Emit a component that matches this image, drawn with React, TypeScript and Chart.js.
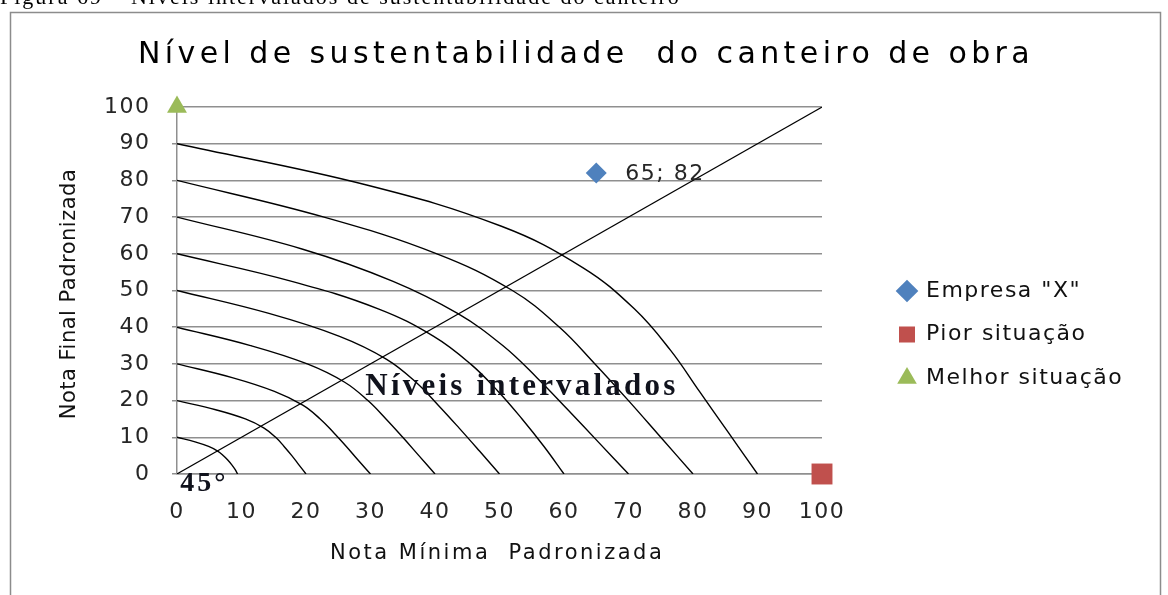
import React, { useEffect, useRef } from "react";
import { Chart, registerables } from "chart.js";

Chart.register(...registerables);

// ---------- texts ----------
const CAPTION = "Figura 69 – Níveis intervalados de sustentabilidade do canteiro";
const TITLE = "Nível de sustentabilidade  do canteiro de obra";
const X_AXIS_TITLE = "Nota Mínima  Padronizada";
const Y_AXIS_TITLE = "Nota Final Padronizada";
const LEVELS_LABEL = "Níveis intervalados";
const ANGLE_LABEL = "45°";

// ---------- axes ----------
const X_TICKS = [0, 10, 20, 30, 40, 50, 60, 70, 80, 90, 100];
const Y_TICKS = [0, 10, 20, 30, 40, 50, 60, 70, 80, 90, 100];

// ---------- point series ----------
const SERIES_NAMES = ['Empresa "X"', "Pior situação", "Melhor situação"];
const EMPRESA_X = [65];
const EMPRESA_Y = [82];
const PIOR_X = [100];
const PIOR_Y = [0];
const MELHOR_X = [0];
const MELHOR_Y = [100];

// ---------- 45° line ----------
const DIAGONAL_X = [0, 100];
const DIAGONAL_Y = [0, 100];

// ---------- level curves ----------
const CURVE_10_X = [0, 2.8, 4.9, 6.3, 7.2, 7.9, 8.5, 9.0, 9.4];
const CURVE_10_Y = [10, 8.75, 7.5, 6.25, 5, 3.75, 2.5, 1.25, 0];
const CURVE_20_X = [0, 6.0, 10.6, 13.5, 15.3, 16.6, 17.8, 18.9, 20];
const CURVE_20_Y = [20, 17.5, 15, 12.5, 10, 7.5, 5, 2.5, 0];
const CURVE_30_X = [0, 8.55, 15.1, 19.5, 22.2, 24.3, 26.25, 28.1, 30];
const CURVE_30_Y = [30, 26.25, 22.5, 18.75, 15, 11.25, 7.5, 3.75, 0];
const CURVE_40_X = [0, 11.4, 20.2, 26, 29.6, 32.4, 35, 37.5, 40];
const CURVE_40_Y = [40, 35, 30, 25, 20, 15, 10, 5, 0];
const CURVE_50_X = [0, 14.25, 25.2, 32.5, 37.05, 40.5, 43.75, 46.9, 50];
const CURVE_50_Y = [50, 43.75, 37.5, 31.25, 25, 18.75, 12.5, 6.25, 0];
const CURVE_60_X = [0, 17.8, 31.2, 39.8, 45.5, 49.8, 53.5, 56.9, 60];
const CURVE_60_Y = [60, 52.5, 45, 37.5, 30, 22.5, 15, 7.5, 0];
const CURVE_70_X = [0, 19.5, 33.5, 43.5, 50.5, 55.8, 60.6, 65.3, 70];
const CURVE_70_Y = [70, 61.25, 52.5, 43.75, 35, 26.25, 17.5, 8.75, 0];
const CURVE_80_X = [0, 22.8, 40.3, 52.0, 59.3, 64.8, 70.0, 75.0, 80];
const CURVE_80_Y = [80, 70, 60, 50, 40, 30, 20, 10, 0];
const CURVE_90_X = [0, 29.4, 50.3, 62.9, 70.9, 76.5, 81.0, 85.5, 90];
const CURVE_90_Y = [90, 78.75, 67.5, 56.25, 45, 33.75, 22.5, 11.25, 0];

const FONT = "'DejaVu Sans', Verdana, sans-serif";
const SERIF = "'Liberation Serif', 'Times New Roman', serif";
const GRID = "#8f8f8f";

const toPoints = (xs: number[], ys: number[]) => xs.map((x, i) => ({ x, y: ys[i] }));

const layoutPlugin = {
  id: "layoutTweaks",
  afterInit(chart: any) {
    const legend = chart.legend;
    if (legend && !legend.__patched) {
      const orig = legend.fit.bind(legend);
      legend.fit = function () {
        orig();
        this.width = 346;
      };
      legend.__patched = true;
    }
  },
  afterLayout(chart: any) {
    const legend = chart.legend;
    if (legend) {
      legend.left = 877.4;
      legend.top = 258.4;
    }
  },
  beforeDraw(chart: any) {
    const ctx = chart.ctx;
    ctx.save();
    ctx.fillStyle = "#fff";
    ctx.fillRect(0, 0, chart.width, chart.height);
    ctx.strokeStyle = "#8c8c8c";
    ctx.lineWidth = 1.5;
    ctx.beginPath();
    ctx.moveTo(10.5, chart.height);
    ctx.lineTo(10.5, 12.5);
    ctx.lineTo(1160.5, 12.5);
    ctx.lineTo(1160.5, chart.height);
    ctx.stroke();
    ctx.restore();
    ctx.letterSpacing = "1.5px";
  },
};

const textPlugin = {
  id: "chartTexts",
  afterDraw(chart: any) {
    const ctx = chart.ctx;
    const xs = chart.scales.x;
    const ys = chart.scales.y;
    ctx.save();
    ctx.textAlign = "left";
    ctx.textBaseline = "alphabetic";

    // figure caption (cut by the top edge)
    ctx.fillStyle = "#000";
    ctx.font = `22px ${SERIF}`;
    ctx.letterSpacing = "2px";
    ctx.fillText(CAPTION, 0, 4);

    // title
    ctx.fillStyle = "#000";
    ctx.font = `30px ${FONT}`;
    ctx.letterSpacing = "4.4px";
    ctx.fillText(TITLE, 138, 63);

    // x axis title
    ctx.font = `21px ${FONT}`;
    ctx.letterSpacing = "2.5px";
    ctx.fillStyle = "#111";
    ctx.fillText(X_AXIS_TITLE, 330, 559);

    // y axis title
    ctx.save();
    ctx.translate(70, 294);
    ctx.rotate(-Math.PI / 2);
    ctx.textAlign = "center";
    ctx.textBaseline = "middle";
    ctx.letterSpacing = "0.5px";
    ctx.fillText(Y_AXIS_TITLE, 0, 0);
    ctx.restore();

    // data label of Empresa "X"
    ctx.font = `22px ${FONT}`;
    ctx.letterSpacing = "1.5px";
    ctx.fillStyle = "#262626";
    ctx.textBaseline = "middle";
    ctx.fillText(
      `${EMPRESA_X[0]}; ${EMPRESA_Y[0]}`,
      xs.getPixelForValue(EMPRESA_X[0]) + 29,
      ys.getPixelForValue(EMPRESA_Y[0]) + 1
    );

    // annotations
    ctx.textBaseline = "alphabetic";
    ctx.fillStyle = "#10121c";
    ctx.font = `bold 31px ${SERIF}`;
    ctx.letterSpacing = "3.2px";
    ctx.fillText(LEVELS_LABEL, xs.getPixelForValue(29.2), ys.getPixelForValue(21.5));
    ctx.font = `bold 28px ${SERIF}`;
    ctx.letterSpacing = "3px";
    ctx.fillText(ANGLE_LABEL, xs.getPixelForValue(0.5), ys.getPixelForValue(-4.6));
    ctx.restore();
  },
};

export default function App() {
  const ref = useRef<HTMLCanvasElement>(null);

  useEffect(() => {
    const canvas = ref.current;
    if (!canvas) return;

    const curve = (xv: number[], yv: number[]) => ({
      label: "",
      data: toPoints(xv, yv),
      showLine: true,
      pointRadius: 0,
      pointHoverRadius: 0,
      borderColor: "#000",
      backgroundColor: "#000",
      borderWidth: 1.4,
      tension: 0.4,
    });

    const chart = new Chart(canvas, {
      type: "scatter",
      data: {
        datasets: [
          {
            label: SERIES_NAMES[0],
            data: toPoints(EMPRESA_X, EMPRESA_Y),
            pointStyle: "rectRot",
            pointRadius: 10.5,
            backgroundColor: "#4F81BD",
            borderColor: "#4F81BD",
            borderWidth: 0,
            clip: false,
          },
          {
            label: SERIES_NAMES[1],
            data: toPoints(PIOR_X, PIOR_Y),
            pointStyle: "rect",
            pointRadius: 14.8,
            backgroundColor: "#C0504D",
            borderColor: "#C0504D",
            borderWidth: 0,
            clip: false,
          },
          {
            label: SERIES_NAMES[2],
            data: toPoints(MELHOR_X, MELHOR_Y),
            pointStyle: "triangle",
            pointRadius: 11.5,
            backgroundColor: "#9BBB59",
            borderColor: "#9BBB59",
            borderWidth: 0,
            clip: false,
          },
          {
            label: "",
            data: toPoints(DIAGONAL_X, DIAGONAL_Y),
            showLine: true,
            pointRadius: 0,
            pointHoverRadius: 0,
            borderColor: "#000",
            backgroundColor: "#000",
            borderWidth: 1.1,
          },
          curve(CURVE_10_X, CURVE_10_Y),
          curve(CURVE_20_X, CURVE_20_Y),
          curve(CURVE_30_X, CURVE_30_Y),
          curve(CURVE_40_X, CURVE_40_Y),
          curve(CURVE_50_X, CURVE_50_Y),
          curve(CURVE_60_X, CURVE_60_Y),
          curve(CURVE_70_X, CURVE_70_Y),
          curve(CURVE_80_X, CURVE_80_Y),
          curve(CURVE_90_X, CURVE_90_Y),
        ] as any,
      },
      options: {
        animation: false,
        responsive: false,
        devicePixelRatio: 1,
        layout: { padding: { top: 107, left: 0, right: 0, bottom: 0 } },
        plugins: {
          title: { display: false },
          tooltip: { enabled: false },
          legend: {
            display: true,
            position: "right",
            align: "start",
            labels: {
              usePointStyle: true,
              boxWidth: 16,
              boxHeight: 16,
              padding: 21.6,
              color: "#111",
              font: { family: FONT, size: 22 },
              filter: (item: any) => item.datasetIndex < 3,
            },
          },
        },
        scales: {
          x: {
            type: "linear",
            min: X_TICKS[0],
            max: X_TICKS[X_TICKS.length - 1],
            afterBuildTicks: (s: any) => {
              s.ticks = X_TICKS.map((v) => ({ value: v }));
            },
            afterFit: (s: any) => {
              s.height = 121;
            },
            ticks: {
              padding: 25,
              color: "#262626",
              font: { family: FONT, size: 22 },
              maxRotation: 0,
              autoSkip: false,
            },
            grid: { display: false, drawTicks: false },
            border: { display: true, color: GRID, width: 1.5 },
          },
          y: {
            type: "linear",
            min: Y_TICKS[0],
            max: Y_TICKS[Y_TICKS.length - 1],
            afterBuildTicks: (s: any) => {
              s.ticks = Y_TICKS.map((v) => ({ value: v }));
            },
            afterFit: (s: any) => {
              s.width = 177;
            },
            ticks: {
              padding: 21.5,
              color: "#262626",
              font: { family: FONT, size: 22 },
              autoSkip: false,
            },
            grid: { color: GRID, lineWidth: 1.5, tickLength: 5, drawTicks: true },
            border: { display: true, color: GRID, width: 1.5 },
          },
        },
      } as any,
      plugins: [layoutPlugin, textPlugin],
    });

    return () => chart.destroy();
  }, []);

  return (
    <div style={{ position: "absolute", left: 0, top: 0, width: 1168, height: 595, background: "#fff" }}>
      <canvas ref={ref} width={1168} height={595} style={{ display: "block", width: 1168, height: 595 }} />
    </div>
  );
}
